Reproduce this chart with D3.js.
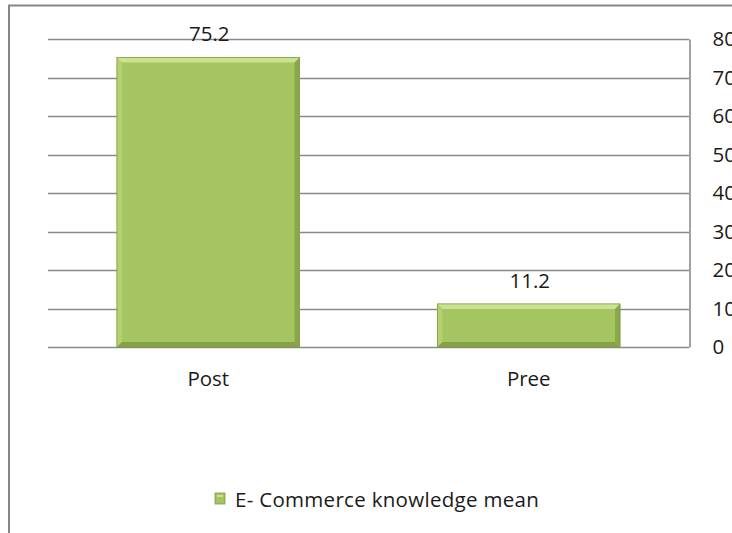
<!DOCTYPE html>
<html>
<head>
<meta charset="utf-8">
<script src="https://cdn.jsdelivr.net/npm/d3@7"></script>
<style>
  html, body { margin: 0; padding: 0; background: #fff; }
  svg { display: block; }
  text { font-family: "Open Sans", Lato, sans-serif; fill: #1a1a1a; }
</style>
</head>
<body>
<svg id="chart" width="732" height="533"></svg>
<script>
const categories = ["Post", "Pree"];
const values = [75.2, 11.2];
const seriesName = "E- Commerce knowledge mean";
const yTicks = [0, 10, 20, 30, 40, 50, 60, 70, 80];

const svg = d3.select("#chart");
const W = 732, H = 533;
const plot = { left: 48, right: 689, top: 39, bottom: 347 };
const FS = "20.5px";

// outer border
svg.append("rect")
  .attr("x", 9).attr("y", 5.5)
  .attr("width", W + 10).attr("height", H + 10)
  .attr("fill", "none").attr("stroke", "#868686").attr("stroke-width", 2);

const x = d3.scaleBand()
  .domain(categories)
  .range([plot.left, plot.right])
  .paddingInner(0.43).paddingOuter(0.215);

const y = d3.scaleLinear().domain([0, 80]).range([plot.bottom, plot.top]);

// gridlines
svg.append("g").selectAll("line").data(yTicks).join("line")
  .attr("x1", plot.left).attr("x2", plot.right)
  .attr("y1", d => Math.round(y(d)) + 0.5).attr("y2", d => Math.round(y(d)) + 0.5)
  .attr("stroke", "#8a8a8a").attr("stroke-width", 1.6);

// right axis
const axis = d3.axisRight(y).tickValues(yTicks).tickSize(0).tickPadding(23);
const ag = svg.append("g").attr("transform", `translate(${plot.right + 0.5},0)`).call(axis);
ag.select(".domain").attr("stroke", "#8a8a8a").attr("stroke-width", 1.6);
ag.selectAll("text").style("font-size", FS).attr("fill", "#1a1a1a").attr("font-family", "'Open Sans', sans-serif");

// bars with bevel
const bev = 5;
const bars = svg.append("g").selectAll("g").data(categories.map((c, i) => ({ c, v: values[i] }))).join("g");
bars.each(function(d) {
  const g = d3.select(this);
  const x0 = x(d.c), x1 = x(d.c) + x.bandwidth();
  const y0 = y(d.v), y1 = y(0);
  g.append("rect").attr("x", x0).attr("y", y0).attr("width", x1 - x0).attr("height", y1 - y0).attr("fill", "#a5c462");
  g.append("polygon").attr("points", [[x0, y0], [x1, y0], [x1 - bev, y0 + bev], [x0 + bev, y0 + bev]].join(" ")).attr("fill", "#cbe28f");
  g.append("polygon").attr("points", [[x0, y0], [x0 + bev, y0 + bev], [x0 + bev, y1 - bev], [x0, y1]].join(" ")).attr("fill", "#b4d070");
  g.append("polygon").attr("points", [[x1, y0], [x1, y1], [x1 - bev, y1 - bev], [x1 - bev, y0 + bev]].join(" ")).attr("fill", "#8aa74a");
  g.append("polygon").attr("points", [[x0, y1], [x1, y1], [x1 - bev, y1 - bev], [x0 + bev, y1 - bev]].join(" ")).attr("fill", "#86a245");
  g.append("rect").attr("x", x0).attr("y", y0).attr("width", x1 - x0).attr("height", y1 - y0)
    .attr("fill", "none").attr("stroke", "#7f9a45").attr("stroke-width", 0.8);
  g.append("text").attr("x", x0 + x.bandwidth() / 2 + 1).attr("y", y0 - 16)
    .attr("text-anchor", "middle").style("font-size", FS).text(d.v.toFixed(1));
});

// category labels
svg.append("g").selectAll("text").data(categories).join("text")
  .attr("x", d => x(d) + x.bandwidth() / 2)
  .attr("y", 386)
  .attr("text-anchor", "middle").style("font-size", FS)
  .text(d => d);

// legend
const lg = svg.append("g");
lg.append("rect").attr("x", 215).attr("y", 493).attr("width", 10).attr("height", 11).attr("fill", "#a5c462").attr("stroke", "#7f9a45").attr("stroke-width", 0.8);
lg.append("rect").attr("x", 217).attr("y", 495).attr("width", 6).attr("height", 2).attr("fill", "#cbe28f");
lg.append("text").attr("x", 235).attr("y", 507).style("font-size", FS).style("letter-spacing", "0.3px").text(seriesName);
</script>
</body>
</html>
